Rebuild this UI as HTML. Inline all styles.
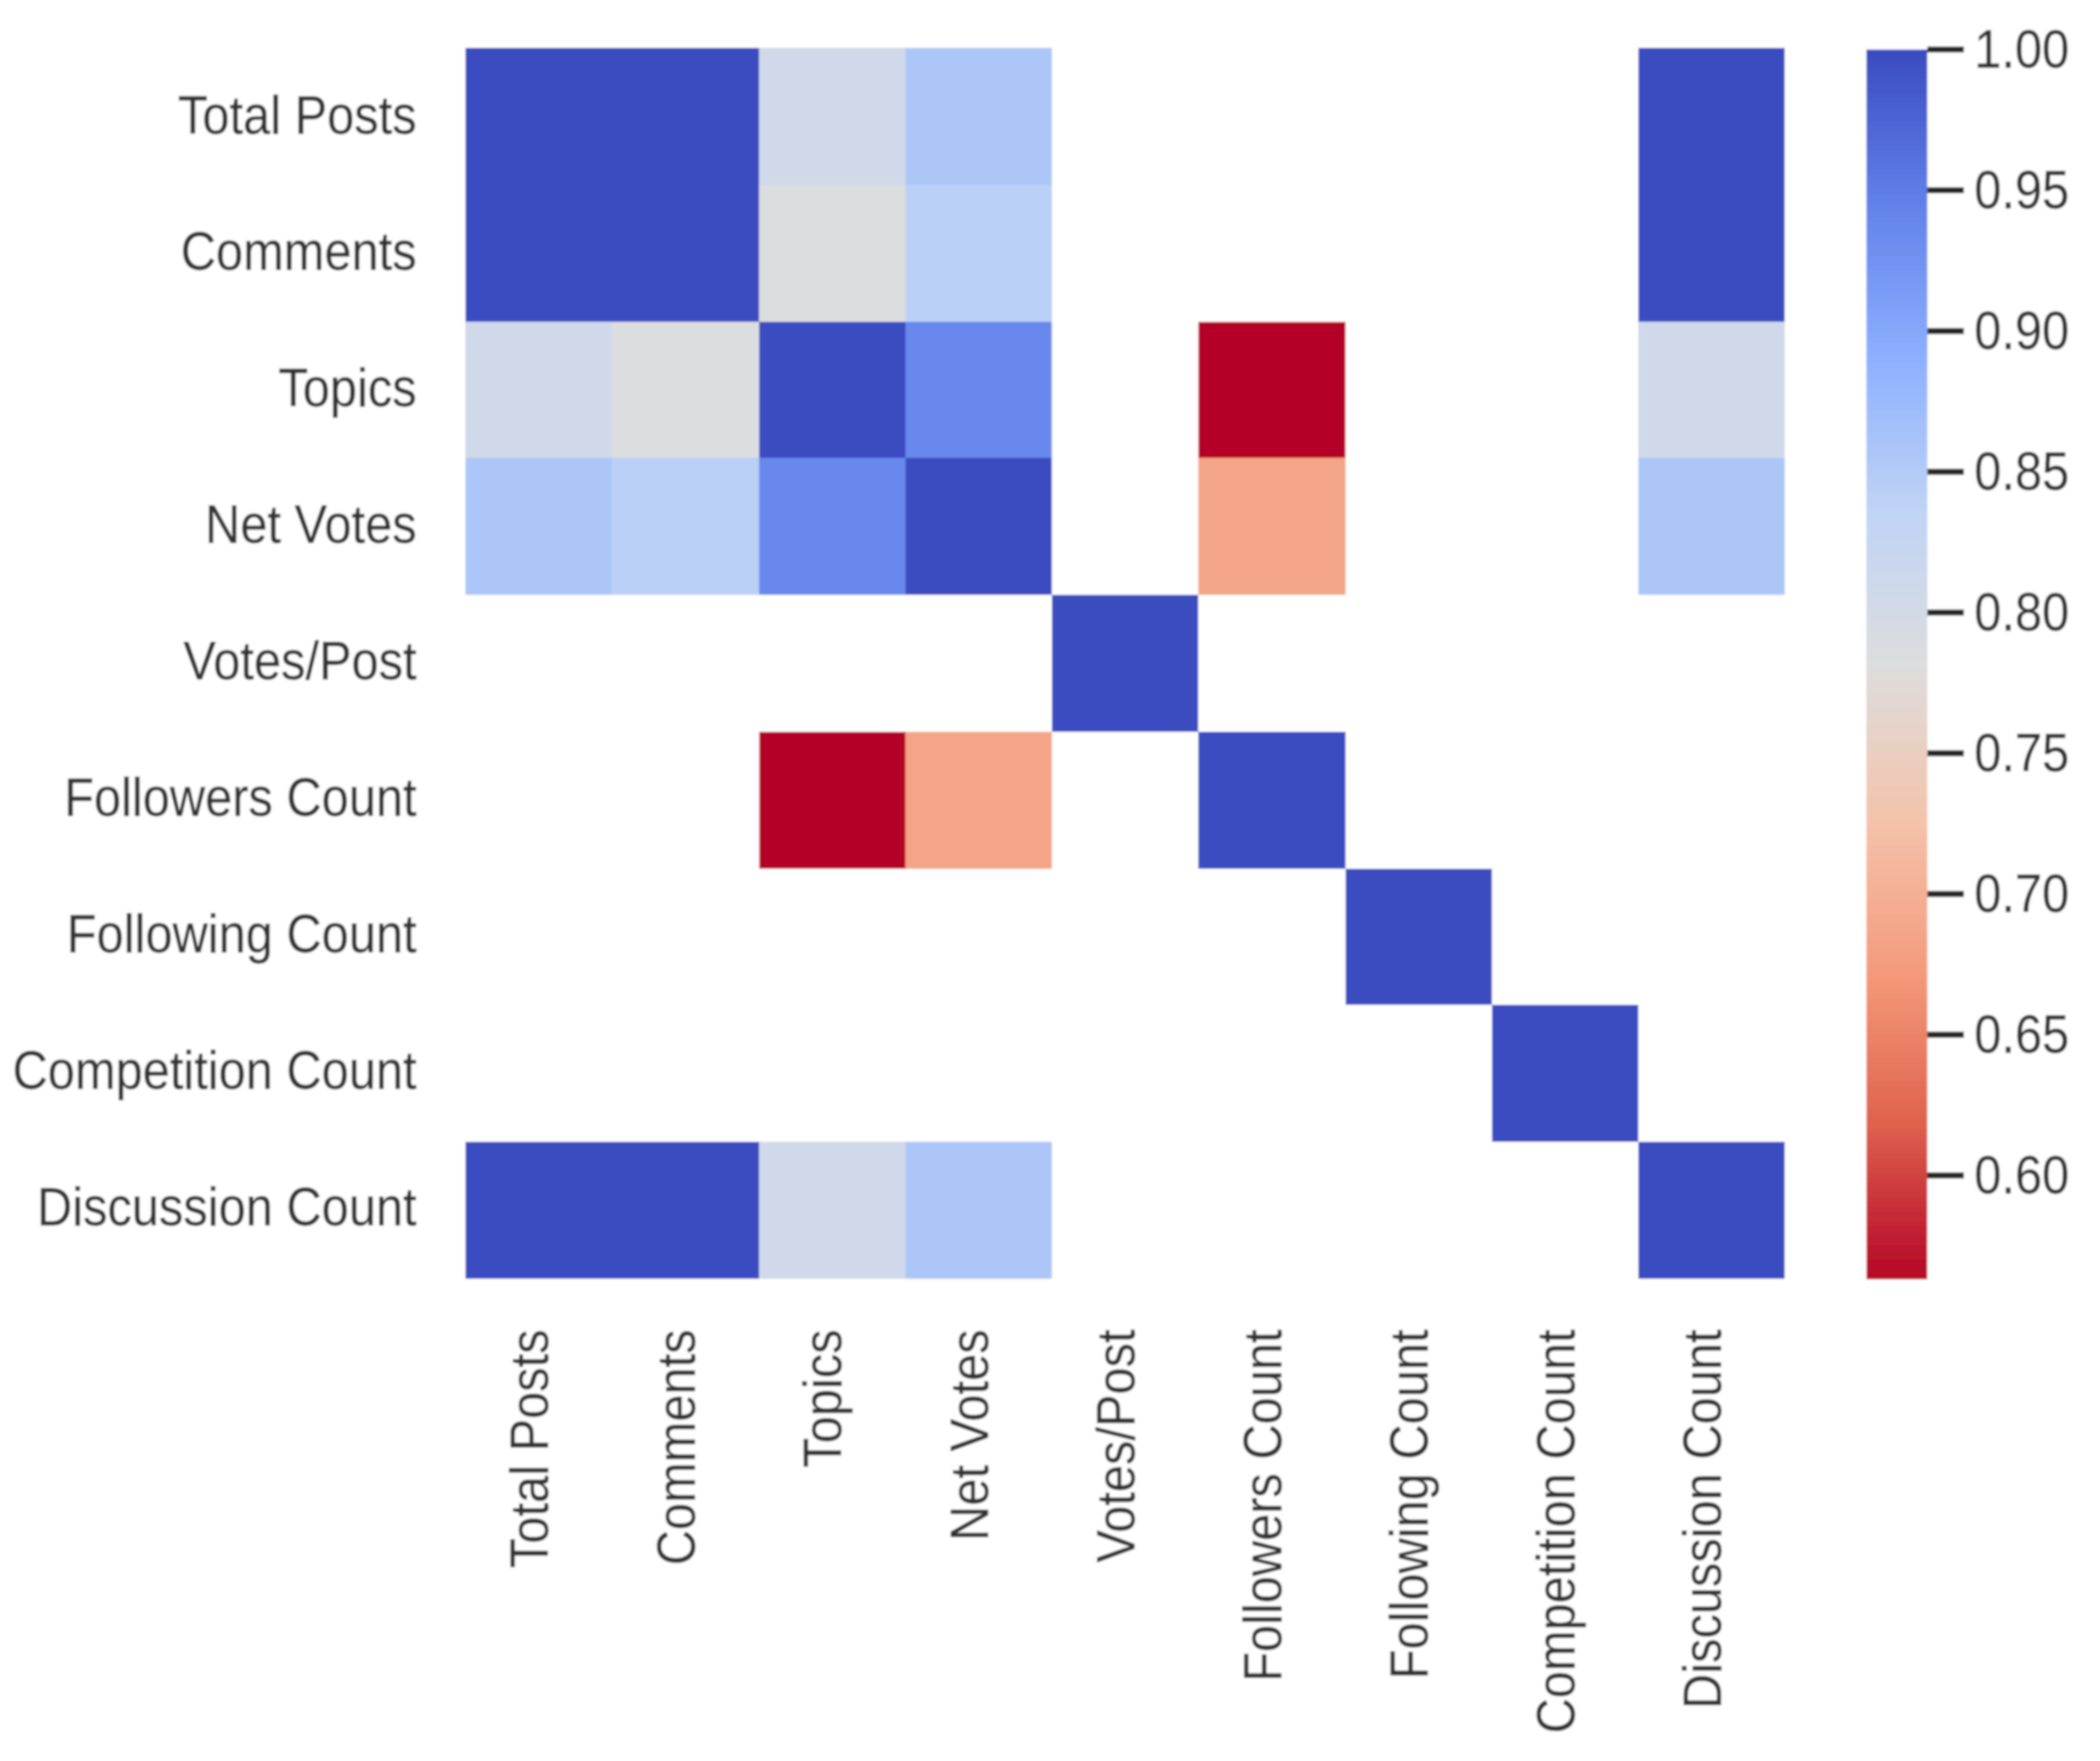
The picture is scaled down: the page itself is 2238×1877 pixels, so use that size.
<!DOCTYPE html>
<html lang="en">
<head>
<meta charset="utf-8">
<title>Correlation heatmap</title>
<style>
  html, body { margin: 0; padding: 0; background: #ffffff; }
  body { width: 2238px; height: 1877px; overflow: hidden; }
  svg { display: block; }
  text { font-family: "Liberation Sans", Arial, sans-serif; fill: #303030; stroke: #303030; stroke-width: 0.35px; font-size: 52px; }
</style>
</head>
<body>
<svg id="chart" xmlns="http://www.w3.org/2000/svg" width="2238" height="1877" viewBox="0 0 2238 1877">
  <defs>
    <filter id="soft" x="0" y="0" width="100%" height="100%" filterUnits="objectBoundingBox">
      <feGaussianBlur stdDeviation="1.1"/>
    </filter>
  </defs>
  <rect x="0" y="0" width="2238" height="1877" fill="#ffffff"/>
  <g id="root" filter="url(#soft)">
    <rect x="0" y="0" width="2238" height="1877" fill="#ffffff"/>
  </g>
</svg>
<script>
const categories = ["Total Posts", "Comments", "Topics", "Net Votes", "Votes/Post", "Followers Count", "Following Count", "Competition Count", "Discussion Count"];
const rowTotalPosts = [1, 1, 0.808, 0.857, null, null, null, null, 1];
const rowComments = [1, 1, 0.783, 0.843, null, null, null, null, 1];
const rowTopics = [0.808, 0.783, 1, 0.938, null, 0.5633, null, null, 0.808];
const rowNetVotes = [0.857, 0.843, 0.938, 1, null, 0.686, null, null, 0.857];
const rowVotesPerPost = [null, null, null, null, 1, null, null, null, null];
const rowFollowers = [null, null, 0.5633, 0.686, null, 1, null, null, null];
const rowFollowing = [null, null, null, null, null, null, 1, null, null];
const rowCompetition = [null, null, null, null, null, null, null, 1, null];
const rowDiscussion = [1, 1, 0.808, 0.857, null, null, null, null, 1];
const colorbarTicks = [1.00, 0.95, 0.90, 0.85, 0.80, 0.75, 0.70, 0.65, 0.60];
const colorRange = [0.5633, 1];

const matrix = [rowTotalPosts, rowComments, rowTopics, rowNetVotes, rowVotesPerPost, rowFollowers, rowFollowing, rowCompetition, rowDiscussion];
const NS = "http://www.w3.org/2000/svg";
const root = document.getElementById("root");

const plot = { left: 496, top: 51.4, cellW: 156.25, cellH: 145.7 };
const bar = { left: 1989, right: 2054, top: 52.8, bottom: 1363 };
const textStretch = 1.1;

const cmapStops = [
  [59, 76, 192], [98, 130, 234], [141, 176, 254], [192, 212, 245],
  [221, 221, 221], [244, 195, 171], [244, 154, 123], [222, 96, 77], [180, 4, 38]
];
function colorFor(v) {
  const t = Math.min(1, Math.max(0, (colorRange[1] - v) / (colorRange[1] - colorRange[0])));
  const p = t * (cmapStops.length - 1);
  const i = Math.min(cmapStops.length - 2, Math.floor(p));
  const f = p - i;
  const c = cmapStops[i].map(function (a, k) { return Math.round(a + (cmapStops[i + 1][k] - a) * f); });
  return "rgb(" + c.join(",") + ")";
}
function xCell(c) { return Math.round(plot.left + c * plot.cellW); }
function yCell(r) { return Math.round(plot.top + r * plot.cellH); }
function yBar(v) { return bar.bottom - (v - colorRange[0]) / (colorRange[1] - colorRange[0]) * (bar.bottom - bar.top); }
function slug(s) { return s.toLowerCase().replace(/[^a-z0-9]+/g, "-"); }

matrix.forEach(function (row, r) {
  row.forEach(function (v, c) {
    if (v === null) return;
    const cell = document.createElementNS(NS, "rect");
    cell.setAttribute("x", xCell(c));
    cell.setAttribute("y", yCell(r));
    cell.setAttribute("width", xCell(c + 1) - xCell(c));
    cell.setAttribute("height", yCell(r + 1) - yCell(r));
    cell.setAttribute("fill", colorFor(v));
    cell.setAttribute("shape-rendering", "crispEdges");
    
    
    root.appendChild(cell);
  });
});

categories.forEach(function (name, r) {
  const label = document.createElementNS(NS, "text");
  const by = plot.top + (r + 0.5) * plot.cellH + 18 - r * 0.25;
  label.setAttribute("transform", "translate(444," + by + ") scale(1," + textStretch + ")");
  label.setAttribute("text-anchor", "end");
  label.textContent = name;
  
  
  root.appendChild(label);
});

categories.forEach(function (name, c) {
  const label = document.createElementNS(NS, "text");
  const bx = plot.left + (c + 0.5) * plot.cellW + 10;
  const by = 1417;
  label.setAttribute("transform", "translate(" + bx + "," + by + ") rotate(-90) scale(1," + textStretch + ")");
  label.setAttribute("text-anchor", "end");
  label.textContent = name;
  
  
  root.appendChild(label);
});

const barSteps = 256;
for (let i = 0; i < barSteps; i++) {
  const v = colorRange[1] - (i / barSteps) * (colorRange[1] - colorRange[0]);
  const vNext = colorRange[1] - ((i + 1) / barSteps) * (colorRange[1] - colorRange[0]);
  const seg = document.createElementNS(NS, "rect");
  seg.setAttribute("x", bar.left);
  seg.setAttribute("y", yBar(v));
  seg.setAttribute("width", bar.right - bar.left);
  seg.setAttribute("height", yBar(vNext) - yBar(v) + 0.6);
  seg.setAttribute("fill", colorFor(v));
  
  
  root.appendChild(seg);
}

colorbarTicks.forEach(function (v) {
  const y = yBar(v);
  const tick = document.createElementNS(NS, "line");
  tick.setAttribute("x1", bar.right);
  tick.setAttribute("x2", 2093);
  tick.setAttribute("y1", y);
  tick.setAttribute("y2", y);
  tick.setAttribute("stroke", "#262626");
  tick.setAttribute("stroke-width", "6.5");
  
  
  root.appendChild(tick);

  const label = document.createElementNS(NS, "text");
  label.setAttribute("transform", "translate(2104," + (y + 19) + ") scale(1," + textStretch + ")");
  label.textContent = v.toFixed(2);
  
  
  root.appendChild(label);
});
</script>
</body>
</html>
